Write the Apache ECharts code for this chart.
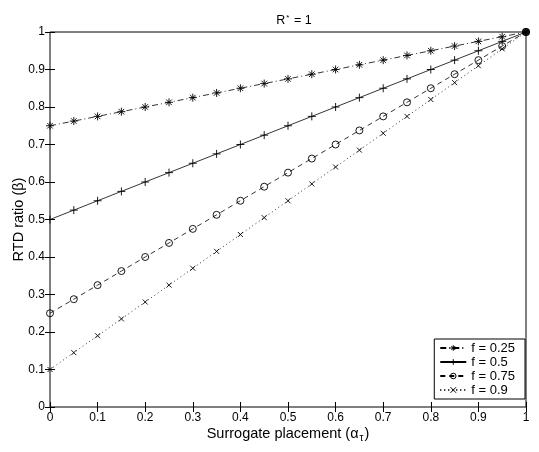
<!DOCTYPE html>
<html><head><meta charset="utf-8">
<script src="https://cdn.jsdelivr.net/npm/echarts@6/dist/echarts.min.js"></script>
<style>html,body{margin:0;padding:0;background:#fff}#c{width:539px;height:452px}</style>
</head><body><div id="c"></div>
<script>
var alpha = [0,0.05,0.1,0.15,0.2,0.25,0.3,0.35,0.4,0.45,0.5,0.55,0.6,0.65,0.7,0.75,0.8,0.85,0.9,0.95,1];
var f025 = [0.75,0.7625,0.775,0.7875,0.8,0.8125,0.825,0.8375,0.85,0.8625,0.875,0.8875,0.9,0.9125,0.925,0.9375,0.95,0.9625,0.975,0.9875,1];
var f050 = [0.5,0.525,0.55,0.575,0.6,0.625,0.65,0.675,0.7,0.725,0.75,0.775,0.8,0.825,0.85,0.875,0.9,0.925,0.95,0.975,1];
var f075 = [0.25,0.2875,0.325,0.3625,0.4,0.4375,0.475,0.5125,0.55,0.5875,0.625,0.6625,0.7,0.7375,0.775,0.8125,0.85,0.8875,0.925,0.9625,1];
var f090 = [0.1,0.145,0.19,0.235,0.28,0.325,0.37,0.415,0.46,0.505,0.55,0.595,0.64,0.685,0.73,0.775,0.82,0.865,0.91,0.955,1];
var seriesNames = ['f = 0.25','f = 0.5','f = 0.75','f = 0.9'];
var endPoint = [[1,1]];

function pairs(ys){ return alpha.map(function(a,i){return [a, ys[i]];}); }

var STAR = 'path://M0,5L10,5M5,0L5,10M1.5,1.5L8.5,8.5M8.5,1.5L1.5,8.5';
var PLUS = 'path://M0,5L10,5M5,0L5,10';
var CROSS = 'path://M0,0L10,10M10,0L0,10';

var font = 'Liberation Sans, Arial, Helvetica, sans-serif';
var chart = echarts.init(document.getElementById('c'), null, {renderer:'canvas'});
function mk(name, data, sym, size, ltype){
  return {
    name: name, type: 'line', data: pairs(data), symbol: sym, symbolSize: size,
    showAllSymbol: true, animation: false,
    lineStyle: {color:'#000', width: 0.8, type: ltype},
    itemStyle: {color: 'transparent', borderColor: '#000', borderWidth: 0.9}
  };
}
var axisCommon = {
  min: 0, max: 1, interval: 0.1,
  axisLine: {show: false},
  axisTick: {show: true, inside: true, length: 5, lineStyle: {color:'#000', width: 1}},
  splitLine: {show: false}
};
var legItem = function(n){ return {name: n, itemStyle: {color: 'transparent', borderColor: '#000', borderWidth: 1}}; };
chart.setOption({
  backgroundColor: '#fff',
  animation: false,
  title: {
    text: '{a|R}{s|*}{a| = 1}', left: 289, top: 9, textAlign: 'center',
    textStyle: {fontWeight: 'normal', rich: {
      a: {fontFamily: font, fontSize: 12.5, color: '#000', fontWeight: 'normal'},
      s: {fontFamily: font, fontSize: 8, color: '#000', verticalAlign: 'top', padding:[0,1,6,1], fontWeight: 'normal'}
    }}
  },
  grid: {left: 50, right: 13, top: 32, bottom: 45, show: true, borderColor: '#000', borderWidth: 1, backgroundColor: '#fff', containLabel: false, outerBoundsMode: 'none'},
  xAxis: [
    Object.assign({type: 'value', position: 'bottom',
      name: '{a|Surrogate placement (\u03B1}{s|\u03C4}{a|)}', nameLocation: 'middle', nameGap: 18, nameMoveOverlap: false,
      nameTextStyle: {rich: {
        a: {fontFamily: font, fontSize: 14.5, color:'#000'},
        s: {fontFamily: font, fontSize: 10, color:'#000', verticalAlign:'bottom', padding:[8,1,0,1]}
      }},
      axisLabel: {color:'#000', fontFamily: font, fontSize: 12, margin: 5}}, axisCommon),
    Object.assign({type: 'value', position: 'top', axisLabel: {show: false}}, axisCommon)
  ],
  yAxis: [
    Object.assign({type: 'value', position: 'left',
      name: 'RTD ratio (\u03B2)', nameLocation: 'middle', nameGap: 24, nameRotate: 90, nameMoveOverlap: false,
      nameTextStyle: {fontFamily: font, fontSize: 14.5, color:'#000'},
      axisLabel: {color:'#000', fontFamily: font, fontSize: 12, margin: 5}}, axisCommon),
    Object.assign({type: 'value', position: 'right', axisLabel: {show: false}}, axisCommon)
  ],
  legend: {
    data: seriesNames.map(legItem), orient: 'vertical', right: 14, bottom: 53,
    backgroundColor: '#fff', borderColor: '#000', borderWidth: 1, borderRadius: 0,
    padding: [2, 10, 2, 5], itemGap: 0, itemWidth: 26, itemHeight: 7,
    textStyle: {fontFamily: font, fontSize: 13, color: '#000', lineHeight: 14},
    selectedMode: false
  },
  series: [
    mk(seriesNames[0], f025, STAR, 8, [6,3,1,3]),
    mk(seriesNames[1], f050, PLUS, 8, 'solid'),
    mk(seriesNames[2], f075, 'circle', 7, [5,4]),
    mk(seriesNames[3], f090, CROSS, 5, [1,3]),
    {type:'scatter', data: endPoint, symbol:'circle', symbolSize: 8, itemStyle:{color:'#000'}, animation:false, silent:true}
  ]
});
</script></body></html>
